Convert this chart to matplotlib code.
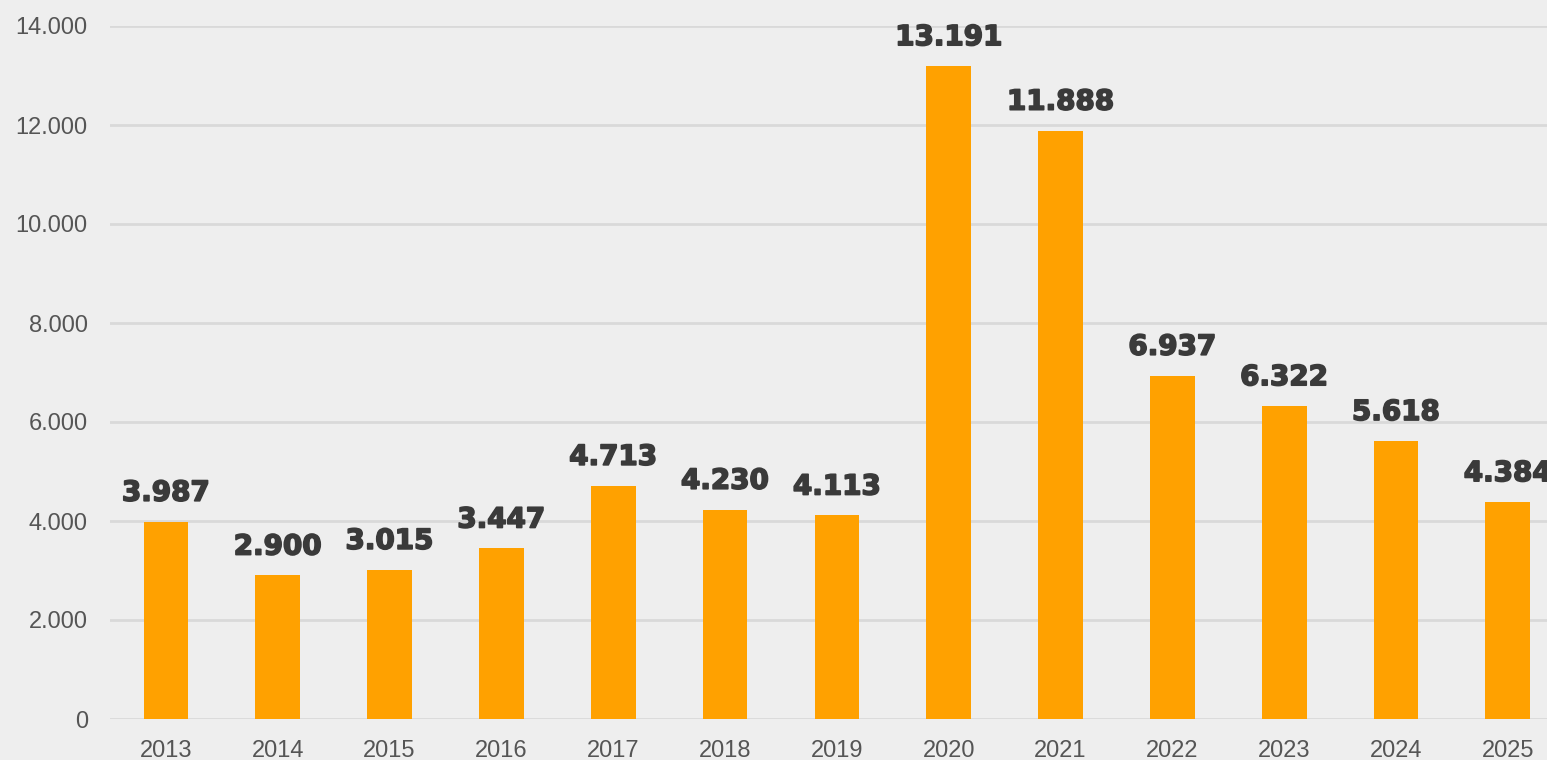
import numpy as np
import matplotlib.pyplot as plt
import matplotlib.patheffects as pe

# data
years = ['2013', '2014', '2015', '2016', '2017', '2018', '2019',
         '2020', '2021', '2022', '2023', '2024', '2025']
values = [3987, 2900, 3015, 3447, 4713, 4230, 4113,
          13191, 11888, 6937, 6322, 5618, 4384]
y_ticks = [0, 2000, 4000, 6000, 8000, 10000, 12000, 14000]


def fmt(v):
    # brazilian thousands separator
    return '{:,}'.format(v).replace(',', '.')


bg = '#eeeeee'
fig = plt.figure(figsize=(15.47, 7.60), dpi=100, facecolor=bg)
ax = fig.add_axes([110 / 1547, 41 / 760, 1 - 110 / 1547, (719 - 26) / 760])
ax.set_facecolor(bg)

x = np.arange(len(years))
bars = ax.bar(x, values, width=0.4, color='#FFA100', zorder=3)

# heavier look for the value labels
heavy = [pe.withStroke(linewidth=1.2, foreground='#3a3a3a')]
for xi, v in zip(x, values):
    ax.text(xi, v + 300, fmt(v), ha='center', va='bottom', fontsize=20,
            fontweight='bold', family='DejaVu Sans', color='#3a3a3a',
            clip_on=False, path_effects=heavy)

ax.set_xlim(-0.5, 12.35)
ax.set_ylim(0, 14000)
ax.set_yticks(y_ticks)
ax.set_yticklabels([fmt(t) for t in y_ticks], family='Liberation Sans',
                   fontsize=17, color='#555555')
ax.set_xticks(x)
ax.set_xticklabels(years, family='Liberation Sans', fontsize=17, color='#555555')
ax.tick_params(axis='both', length=0)
ax.tick_params(axis='y', pad=16)
ax.tick_params(axis='x', pad=15)
ax.grid(axis='y', color='#d9d9d9', linewidth=2, zorder=0)
for s in ax.spines.values():
    s.set_visible(False)

fig.savefig('out.png', dpi=100, facecolor=bg)
